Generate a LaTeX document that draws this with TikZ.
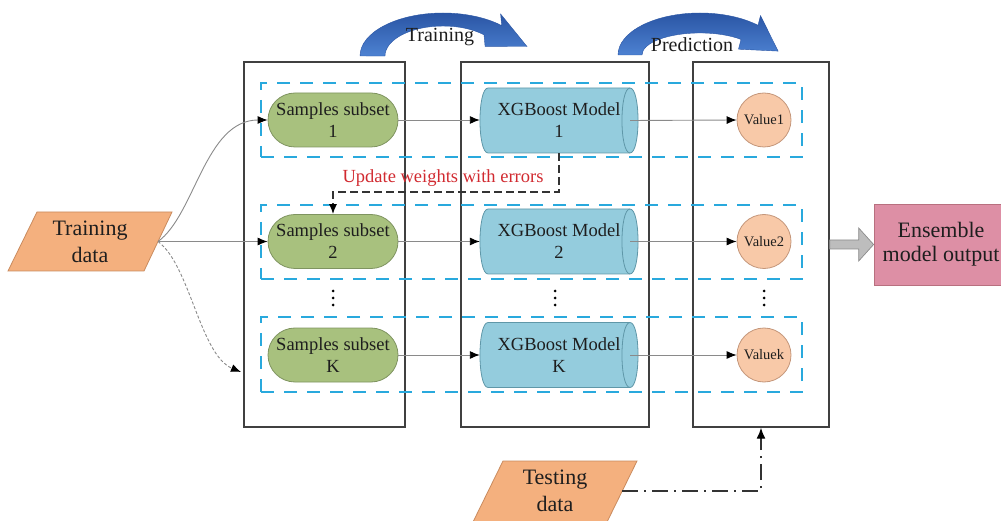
\documentclass[tikz,border=0pt]{standalone}
\usepackage{fontspec}
\setmainfont{Liberation Serif}
\usetikzlibrary{shapes.geometric,shapes.misc,arrows.meta,calc}

\definecolor{boxline}{HTML}{404040}
\definecolor{dashblue}{HTML}{29A9DD}
\definecolor{pillfill}{HTML}{A8C17E}
\definecolor{pillline}{HTML}{7F9460}
\definecolor{cylfill}{HTML}{94CCDD}
\definecolor{cylline}{HTML}{5F97A8}
\definecolor{valfill}{HTML}{F8C9A8}
\definecolor{valline}{HTML}{C4967A}
\definecolor{datafill}{HTML}{F4B07E}
\definecolor{dataline}{HTML}{C98B5E}
\definecolor{ensfill}{HTML}{DD8FA5}
\definecolor{ensline}{HTML}{B8707F}
\definecolor{linkgray}{HTML}{8A8A8A}
\definecolor{updred}{HTML}{D12A30}
\definecolor{arcdark}{HTML}{2A55A4}
\definecolor{arclight}{HTML}{4D82D2}
\definecolor{txt}{HTML}{1E1E1E}
\definecolor{blockgray}{HTML}{BDBDBD}

\begin{document}
\begin{tikzpicture}[x=1pt,y=-1pt,
  every node/.style={text=txt},
  mainfont/.style={font=\fontsize{18.5}{22}\selectfont},
  stagebox/.style={draw=boxline, line width=1.4pt, rectangle, inner sep=0pt},
  rowbox/.style={draw=dashblue, line width=2.6pt, dash pattern=on 13pt off 10pt, rectangle, inner sep=0pt},
  pill/.style={rounded rectangle, draw=pillline, fill=pillfill, line width=0.8pt,
    minimum width=134, minimum height=54, inner sep=2pt, align=center, mainfont},
  cylbody/.style={draw=cylline, fill=cylfill, line width=0.8pt},
  xgb/.style={rectangle, minimum width=158, minimum height=65, inner sep=0pt, align=center, mainfont},
  valnode/.style={circle, draw=valline, fill=valfill, line width=0.8pt,
    minimum size=54, inner sep=0pt, font=\fontsize{14.5}{16}\selectfont},
  datashape/.style={draw=dataline, fill=datafill, line width=0.8pt},
  bigtext/.style={align=center, font=\fontsize{22}{27}\selectfont},
  link/.style={draw=linkgray, line width=0.9pt, -{Latex[length=10pt,width=8pt,color=black]}},
  updline/.style={draw=black!80, line width=1.3pt, dash pattern=on 8pt off 4pt,
    -{Latex[length=10pt,width=8pt,color=black]}},
  testline/.style={draw=black!80, line width=1.4pt, dash pattern=on 16pt off 6pt on 2pt off 6pt,
    -{Latex[length=11pt,width=9pt,color=black]}},
  arcband/.style={top color=arcdark, bottom color=arclight, draw=arcdark, line width=0.4pt},
]
\useasboundingbox (0,0) rectangle (1001,521);

% three stages
\node[stagebox, minimum width=161, minimum height=365] (stA) at (324.5,244.5) {};
\node[stagebox, minimum width=188, minimum height=365] (stB) at (555,244.5) {};
\node[stagebox, minimum width=136, minimum height=365] (stC) at (761,244.5) {};

% dashed rows
\node[rowbox, minimum width=541, minimum height=74] (row1) at (531.5,120) {};
\node[rowbox, minimum width=541, minimum height=74] (row2) at (531.5,242) {};
\node[rowbox, minimum width=541, minimum height=75] (row3) at (531.5,354.5) {};

% sample subsets
\node[pill] (p1) at (333,120) {Samples subset\\1};
\node[pill] (p2) at (333,241.5) {Samples subset\\2};
\node[pill] (p3) at (333,355) {Samples subset\\K};

% model cylinders: body with a rounded back end and an open front cap
\foreach \cy in {120.5,241.5,355}{
  \filldraw[cylbody] (488,\cy-32.5) -- (630,\cy-32.5)
    .. controls (640.7,\cy-32.5) and (640.7,\cy+32.5) .. (630,\cy+32.5)
    -- (488,\cy+32.5)
    .. controls (477.3,\cy+32.5) and (477.3,\cy-32.5) .. (488,\cy-32.5) -- cycle;
  \draw[cylbody, fill=none] (630,\cy-32.5)
    .. controls (619.3,\cy-32.5) and (619.3,\cy+32.5) .. (630,\cy+32.5);
}
\node[xgb] (c1) at (559,120.5) {XGBoost Model\\1};
\node[xgb] (c2) at (559,241.5) {XGBoost Model\\2};
\node[xgb] (c3) at (559,355) {XGBoost Model\\K};

% values
\node[valnode] (v1) at (764,120) {Value1};
\node[valnode] (v2) at (764,241.5) {Value2};
\node[valnode] (v3) at (764,355) {Valuek};

% vertical ellipsis in each stage
\foreach \xx in {333,555,764}{
  \foreach \yy in {291,298,305}{
    \fill[black] (\xx,\yy) circle (1.5pt);
  }
}

% training data
\filldraw[datashape] (37,212) -- (172,212) -- (144,271) -- (8,271) -- cycle;
\node[bigtext] (train) at (90,241.5) {Training\\data};
\coordinate (trainR) at (158,241.5);
\coordinate (dotEnd) at (241,372);

% testing data
\filldraw[datashape] (503,461) -- (637,461) -- (607,522) -- (473,522) -- cycle;
\node[bigtext] (test) at (555,491) {Testing\\data};
\coordinate (testR) at (622,491);

% ensemble output
\node[rectangle, draw=ensline, fill=ensfill, line width=0.8pt, minimum width=134,
  minimum height=81, bigtext, font=\fontsize{22}{24}\selectfont] (ens) at (941,244.5) {Ensemble\\model output};

% block arrow to the output
\filldraw[fill=blockgray, draw=black!45, line width=0.7pt]
  ($(stC.east)+(0,-4.5)$) -- ++(29,0) -- ++(0,-12) -- (ens.west) -- ($(stC.east)+(29,16.5)$)
  -- ++(0,-12) -- ($(stC.east)+(0,4.5)$) -- cycle;

% connectors from the training data
\draw[link] (trainR) .. controls (195,215) and (205,120) .. (p1.west);
\draw[link] (trainR) -- (p2.west);
\draw[link, dash pattern=on 3pt off 2pt] (trainR) .. controls (190,265) and (200,355) .. (dotEnd);

% subset -> model -> value
\foreach \i in {1,2,3}{
  \draw[link] (p\i.east) -- (c\i.west |- p\i.east);
  \draw[link] ([xshift=-8]c\i.east) -- (v\i.west);
}

% weight update
\coordinate (updCorner) at (333,192);
\draw[updline] (c1.south) |- (updCorner) -- (p2.north);
\node[text=updred, mainfont] (updtxt) at (443,178) {Update weights with errors};

% testing data feeds the prediction stage
\draw[testline] (testR) -| (stC.south);

% curved stage arrows
\path[arcband] (360,56) arc[start angle=180, end angle=315, x radius=83, y radius=43]
  -- (500.6,14) -- (527,46.5) -- (485.1,46.4)
  -- (484,34.8) arc[start angle=315, end angle=180, x radius=58, y radius=30] -- cycle;
\node[font=\fontsize{20}{24}\selectfont] (lblTrain) at (440,37) {Training};

\path[arcband] (618,55) arc[start angle=180, end angle=315, x radius=82, y radius=42]
  -- (760.5,15.6) -- (778.1,51.1) -- (738.5,49.2)
  -- (741,39.4) arc[start angle=315, end angle=180, x radius=58, y radius=22] -- cycle;
\node[font=\fontsize{20}{24}\selectfont] (lblPred) at (692,45) {Prediction};
\end{tikzpicture}
\end{document}
